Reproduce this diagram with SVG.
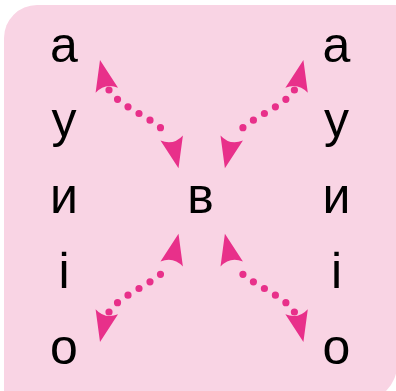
<svg xmlns="http://www.w3.org/2000/svg" xmlns:xlink="http://www.w3.org/1999/xlink" width="396" height="391" viewBox="0 0 396 391">
  <style>
    .bg { fill: #f9d4e4; }
    .lt { font-family: "Liberation Sans", Arial, sans-serif; font-size: 50px; fill: #000; text-anchor: middle; }
    .dots { fill: none; stroke: #e8308a; stroke-width: 7.2; stroke-linecap: round; stroke-dasharray: 0 1; }
    .head { fill: #e8308a; }
  </style>
  <defs>
    <path id="ah" d="M0,0 L11.5,31 Q0,23 -11.5,31 Z"/>
  </defs>
  <path class="bg" d="M4,38 A33,33 0 0 1 37,5 H397 V365 A36,36 0 0 1 361,401 H4 Z"/>

  <g id="left-column">
    <g id="n-a-left"><text class="lt" x="64" y="62">а</text></g>
    <g id="n-u-left"><text class="lt" x="64" y="137">у</text></g>
    <g id="n-y-left"><text class="lt" x="64" y="213">и</text></g>
    <g id="n-i-left"><text class="lt" x="64" y="288">і</text></g>
    <g id="n-o-left"><text class="lt" x="64" y="364">о</text></g>
  </g>
  <g id="n-v"><text class="lt" x="200.5" y="213">в</text></g>
  <g id="right-column">
    <g id="n-a-right"><text class="lt" x="336.5" y="62">а</text></g>
    <g id="n-u-right"><text class="lt" x="336.5" y="137">у</text></g>
    <g id="n-y-right"><text class="lt" x="336.5" y="213">и</text></g>
    <g id="n-i-right"><text class="lt" x="336.5" y="288">і</text></g>
    <g id="n-o-right"><text class="lt" x="336.5" y="364">о</text></g>
  </g>

  <g id="connectors">
    <g id="c-top-left">
      <path class="dots" pathLength="6" d="M109,90 C120,108 158,119 169,137"/>
      <use class="head" xlink:href="#ah" transform="translate(100,60) rotate(-12.7)"/>
      <use class="head" xlink:href="#ah" transform="translate(178.5,168.3) rotate(167.3)"/>
    </g>
    <g id="c-top-right">
      <path class="dots" pathLength="6" d="M294.4,90 C283.4,108 245.4,119 234.4,137"/>
      <use class="head" xlink:href="#ah" transform="translate(303.4,60) rotate(12.7)"/>
      <use class="head" xlink:href="#ah" transform="translate(224.9,168.3) rotate(-167.3)"/>
    </g>
    <g id="c-bottom-left">
      <path class="dots" pathLength="6" d="M109,312 C120,294 158,283 169,265"/>
      <use class="head" xlink:href="#ah" transform="translate(100,342) rotate(192.7)"/>
      <use class="head" xlink:href="#ah" transform="translate(178.5,233.7) rotate(12.7)"/>
    </g>
    <g id="c-bottom-right">
      <path class="dots" pathLength="6" d="M294.4,312 C283.4,294 245.4,283 234.4,265"/>
      <use class="head" xlink:href="#ah" transform="translate(303.4,342) rotate(167.3)"/>
      <use class="head" xlink:href="#ah" transform="translate(224.9,233.7) rotate(-12.7)"/>
    </g>
  </g>
</svg>
